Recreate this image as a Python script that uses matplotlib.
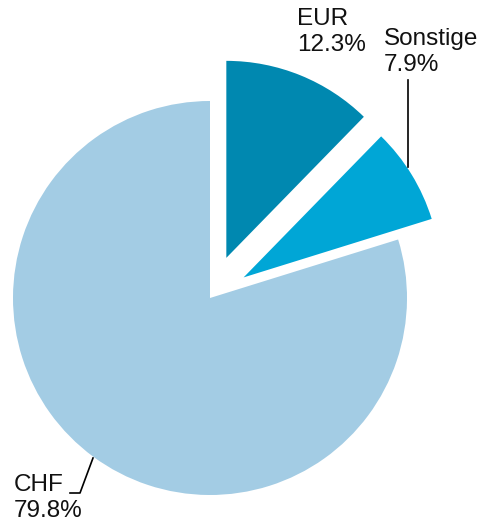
import matplotlib.pyplot as plt

# data
labels = ["EUR", "Sonstige", "CHF"]
shares = [12.3, 7.9, 79.8]
colors = ["#0088b0", "#00a6d6", "#a3cce4"]
explode = [0.22, 0.2, 0.0]

plt.rcParams['font.family'] = ['Liberation Sans', 'DejaVu Sans']

W, H = 481, 527
fig = plt.figure(figsize=(W / 100, H / 100), dpi=100)

# pie centre and radius in pixels (top-left origin)
cx, cy, r = 210, 298, 197
ax = fig.add_axes([(cx - r) / W, (H - cy - r) / H, 2 * r / W, 2 * r / H])

wedges, _ = ax.pie(shares, colors=colors, explode=explode, startangle=90,
                   counterclock=False, radius=1.0,
                   wedgeprops=dict(linewidth=0))
for w in wedges:
    w.set_clip_on(False)

ax.set_xlim(-1, 1)
ax.set_ylim(-1, 1)
ax.set_aspect('equal')
ax.axis('off')


def px(x, y):
    # pixel position -> data coords of the pie axes
    return (x - cx) / r, (cy - y) / r


fs = 17.5
txt = dict(fontsize=fs, color="#111111", ha='left', va='top', linespacing=1.25)

x, y = px(297, 8)
ax.text(x, y, f"{labels[0]}\n{shares[0]}%", **txt)
x, y = px(384, 28)
ax.text(x, y, f"{labels[1]}\n{shares[1]}%", **txt)
x, y = px(14, 474)
ax.text(x, y, f"{labels[2]}\n{shares[2]}%", **txt)

# leader lines
lx, ly = zip(px(408, 80), px(408, 167))
ax.plot(lx, ly, color="black", lw=1.2, clip_on=False)
lx, ly = zip(px(70, 493), px(80, 493), px(93, 458))
ax.plot(lx, ly, color="black", lw=1.2, clip_on=False)

fig.savefig("out.png", dpi=100)
